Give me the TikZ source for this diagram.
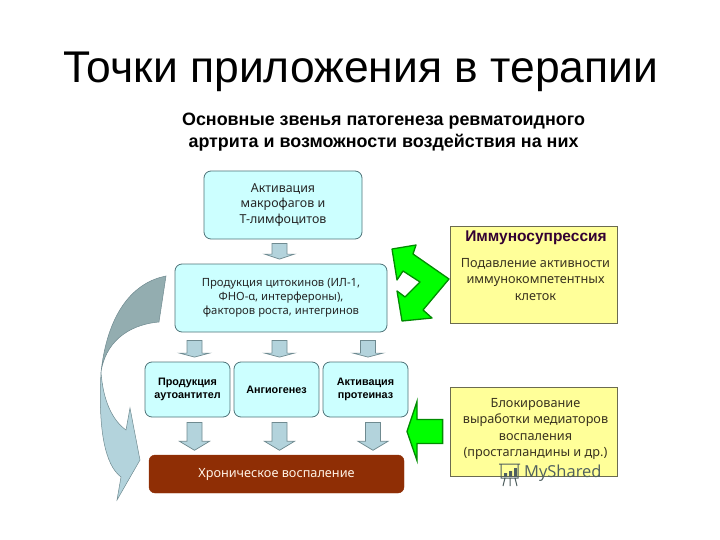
\documentclass[tikz,border=0pt]{standalone}
\usepackage{fontspec}
\setmainfont{Liberation Sans}
\newfontfamily\boxfont{Noto Sans}
\newfontfamily\logofont{Open Sans}
\usetikzlibrary{calc}
\definecolor{boxcyan}{HTML}{CCFFFF}
\definecolor{boxedge}{HTML}{4F7378}
\definecolor{arrowblue}{HTML}{B3D3DC}
\definecolor{arrowdark}{HTML}{93ADB0}
\definecolor{arrowedge}{HTML}{6F8A90}
\definecolor{chronred}{HTML}{8F2E05}
\definecolor{noteyellow}{HTML}{FFFF99}
\definecolor{noteedge}{HTML}{6B6B50}
\definecolor{notetext}{HTML}{3A3320}
\definecolor{notehead}{HTML}{330033}
\definecolor{logogrey}{HTML}{4F5F5F}
\tikzset{
  cyanbox/.style 2 args={draw=boxedge,line width=.8pt,fill=boxcyan,rounded corners=7pt,align=center,font=\boxfont\fontsize{#1}{#2}\selectfont,text=black!85,inner sep=0pt},
  rowbox/.style={draw=boxedge,line width=.8pt,fill=boxcyan,rounded corners=7pt,align=center,minimum width=85pt,minimum height=55pt,font=\bfseries\fontsize{10.8}{13.5}\selectfont,inner sep=0pt},
  notebox/.style={draw=noteedge,line width=.8pt,fill=noteyellow,minimum width=167pt,align=center,inner sep=0pt},
  notetextnode/.style={inner sep=0pt,align=center,font=\boxfont\fontsize{12.7}{16.3}\selectfont,text=notetext},
  blockdown/.style 2 args={draw=arrowedge,fill=arrowblue,line width=.7pt,to path={let \p1=(\tikztostart),\p2=(\tikztotarget) in
    (\x1-7.5pt,\y1-#1) -- (\x1+7.5pt,\y1-#1) -- (\x1+7.5pt,\y2+4.5pt+#2) -- (\x1+15pt,\y2+4.5pt+#2) -- (\x1,\y2+4.5pt) -- (\x1-15pt,\y2+4.5pt+#2) -- (\x1-7.5pt,\y2+4.5pt+#2) -- cycle}},
  blockleft/.style={draw=green!55!black,fill=green,line width=1.3pt,to path={let \p1=(\tikztostart),\p2=(\tikztotarget) in
    (\x1-7pt,\y1+12pt) -- (\x2+10pt,\y1+12pt) -- (\x2+10pt,\y1+30pt) -- (\x2,\y2) -- (\x2+10pt,\y1-29pt) -- (\x2+10pt,\y1-12pt) -- (\x1-7pt,\y1-12pt) -- cycle}},
  greenshape/.style={draw=green!55!black,fill=green,line width=1.3pt,line join=round},
  curveshape/.style={draw=arrowedge,fill=#1,line width=.5pt}
}
\begin{document}
\begin{tikzpicture}[x=1pt,y=-1pt]
  \useasboundingbox (0,0) rectangle (720,540);
  \node[anchor=base west,inner sep=0pt,font=\fontsize{44.4}{50}\selectfont] (title) at (63,83) {Точки приложения в терапии};
  \node[align=center,inner sep=0pt,font=\bfseries\fontsize{17.9}{22.5}\selectfont] (heading) at (383.5,132) {Основные звенья патогенеза ревматоидного\\артрита и возможности воздействия на них};

  \node[cyanbox={12.4}{15.5},minimum width=158pt,minimum height=68pt] (macro) at (283,205) {Активация\\макрофагов и\\Т-лимфоцитов};
  \node[cyanbox={11.3}{14},minimum width=212pt,minimum height=68pt] (cyto) at (281,298) {Продукция цитокинов (ИЛ-1,\\ФНО-α, интерфероны),\\факторов роста, интегринов};
  \node[rowbox] (auto) at (187.5,389.5) {Продукция\\аутоантител};
  \node[rowbox] (angio) at (276.5,389.5) {Ангиогенез};
  \node[rowbox] (prot) at (365.5,389.5) {Активация\\протеиназ};
  \node[draw=chronred,fill=chronred,rounded corners=6pt,minimum width=255pt,minimum height=38pt,inner sep=0pt,text=white!90!orange,font=\boxfont\fontsize{12.7}{13}\selectfont] (chron) at (276.5,474) {Хроническое воспаление};

  \node[notebox,minimum height=97pt] (suppress) at (533.5,274.5) {};
  \node[inner sep=0pt,font=\bfseries\fontsize{15.5}{16}\selectfont,text=notehead] (suppresshead) at (536,238) {Иммуносупрессия};
  \node[notetextnode] (suppresstext) at (535.5,279.5) {Подавление активности\\иммунокомпетентных\\клеток};
  \node[notebox,minimum height=89pt] (block) at (533.5,431.5) {};
  \node[notetextnode] (blocktext) at (535.5,429) {Блокирование\\выработки медиаторов\\воспаления\\(простагландины и др.)};

  \draw[blockdown={4pt}{5pt}] ($(macro.south)+(-3.5,0)$) to ($(cyto.north)+(-1.5,0)$);
  \draw[blockdown={8pt}{4pt}] ($(cyto.south)+(-86.5,0)$) to (auto.north);
  \draw[blockdown={8pt}{4pt}] ($(cyto.south)+(-1.5,0)$) to (angio.north);
  \draw[blockdown={8pt}{4pt}] ($(cyto.south)+(87,0)$) to (prot.north);
  \draw[blockdown={5pt}{9pt}] ($(auto.south)+(7,0)$) to ($(chron.north)+(-82,0)$);
  \draw[blockdown={5pt}{9pt}] ($(angio.south)+(3,0)$) to ($(chron.north)+(3,0)$);
  \draw[blockdown={5pt}{9pt}] ($(prot.south)+(7.5,0)$) to ($(chron.north)+(96,0)$);

  \coordinate (blocktip) at (407,431.5);
  \draw[blockleft] (block.west) to (blocktip);
  \draw[greenshape] (392,249) -- (416,245) -- (413,254) -- (449,279) -- (423,310) -- (432,318) -- (402,321) -- (397,291) -- (405,297) -- (420,282) -- (403,271) -- (397,280) -- cycle;

  \draw[curveshape=arrowblue] (101,372) .. controls (103,400) and (112,420) .. (126,430) -- (130,408) -- (140,460) -- (117,500) -- (121,477) .. controls (105,465) and (98,430) .. (101,372) -- cycle;
  \draw[curveshape=arrowdark] (166,276) .. controls (135,282) and (108,310) .. (101,372) .. controls (105,345) and (125,325) .. (159,322) -- cycle;

  \node[anchor=west,inner sep=0pt,font=\logofont\fontsize{16.5}{18}\selectfont,text=logogrey] (logo) at (524,473.5) {MyShared};
  \draw[logogrey,line width=1pt] (499,464) -- (520,464) (501,464) rectangle (518,478) (505,478) -- (503,486) (510,478) -- (510,486) (515,478) -- (517,486);
  \fill[logogrey] (504,473) rectangle (507,477) (509,471) rectangle (512,477) (514,468) rectangle (517,477);
\end{tikzpicture}
\end{document}
